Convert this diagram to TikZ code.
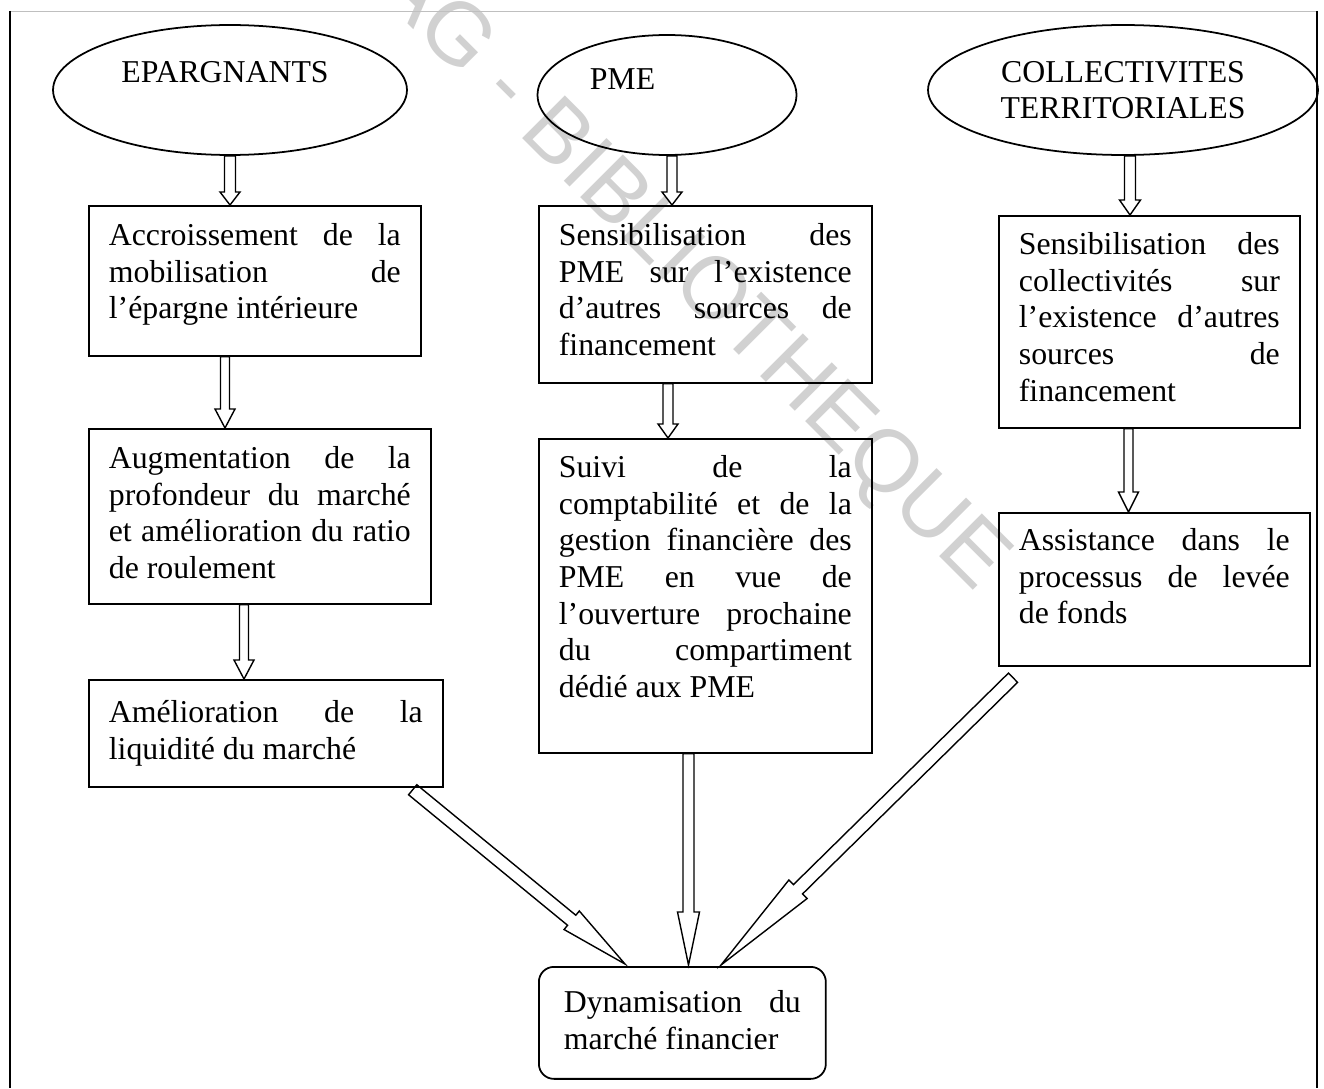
\documentclass[tikz,border=0pt]{standalone}
\usepackage{fontspec}
\setmainfont{Liberation Serif}
\newfontfamily\filigrane{Liberation Sans}
\usetikzlibrary{calc, shapes.geometric}
\definecolor{gristrait}{gray}{0.75}
\definecolor{grisfili}{gray}{0.82}
\newcommand{\corps}{\fontsize{18.1}{20.8}\selectfont}
\newcommand{\fleche}[5]{%
  \coordinate (fA) at #4;
  \coordinate (fB) at #5;
  \coordinate (fC) at ($(fB)!#3!(fA)$);
  \draw[creux] ($(fA)!#1!90:(fB)$) -- ($(fC)!#1!-90:(fA)$)
    -- ($(fC)!#2!-90:(fA)$) -- (fB) -- ($(fC)!#2!90:(fA)$)
    -- ($(fC)!#1!90:(fA)$) -- ($(fA)!#1!-90:(fB)$) -- cycle;}
\tolerance=10000
\hyphenpenalty=10000

\begin{document}
\begin{tikzpicture}[x=0.02cm, y=-0.02cm,
      acteur/.style={ellipse, draw, line width=1pt, inner sep=0pt, font=\corps},
      titre/.style={anchor=base, inner sep=0pt, font=\corps},
      etape/.style={draw, line width=1pt, anchor=north west, inner xsep=0.4cm,
                    inner ysep=0pt, align=justify, font=\corps},
      creux/.style={draw, line width=0.8pt, line join=miter}]
    \useasboundingbox (0,0) rectangle (1324,1088);
    \node[text=grisfili, font=\filigrane\fontsize{50}{50}\selectfont, rotate=-45]
      (fili) at (690,275) {AG - BIBLIOTHEQUE};
    \draw[gristrait, line width=0.5pt] (10,11) -- (1317,11);
    \draw[line width=1.2pt] (10,11) -- (10,1088) (1317,11) -- (1317,1088);

    \node[acteur, minimum width=7.08cm, minimum height=2.6cm] (e1) at (230,90) {};
    \node[titre] (t1) at ($(e1)+(-5,-7)$) {EPARGNANTS};
    \node[acteur, minimum width=5.18cm, minimum height=2.4cm] (e2) at (667,95) {};
    \node[titre] (t2) at ($(e2)+(-44.5,-5)$) {PME};
    \node[acteur, minimum width=7.8cm, minimum height=2.6cm, align=center]
      (e3) at (1123,90) {COLLECTIVITES\\TERRITORIALES};

    \node[etape, text width=5.84cm, text height=0.8cm, text depth=2.2cm] (b1) at (88,205)
      {Accroissement de la\linebreak mobilisation de\linebreak l’épargne intérieure};
    \node[etape, text width=6.04cm, text height=0.8cm, text depth=2.7cm] (b2) at (88,428)
      {Augmentation de la\linebreak profondeur du marché\linebreak et amélioration du ratio\linebreak de roulement};
    \node[etape, text width=6.28cm, text height=0.86cm, text depth=1.28cm] (b3) at (88,679)
      {Amélioration de la\linebreak liquidité du marché};
    \node[etape, text width=5.86cm, text height=0.8cm, text depth=2.74cm] (b4) at (538,205)
      {Sensibilisation des\linebreak PME sur l’existence\linebreak d’autres sources de\linebreak financement};
    \node[etape, text width=5.86cm, text height=0.78cm, text depth=5.5cm] (b5) at (538,438)
      {Suivi de la\linebreak comptabilité et de la\linebreak gestion financière des\linebreak PME en vue de\linebreak l’ouverture prochaine\linebreak du compartiment\linebreak dédié aux PME};
    \node[etape, text width=5.22cm, text height=0.78cm, text depth=3.46cm] (b6) at (998,215)
      {Sensibilisation des\linebreak collectivités sur\linebreak l’existence d’autres\linebreak sources de\linebreak financement};
    \node[etape, text width=5.42cm, text height=0.76cm, text depth=2.3cm] (b7) at (998,512)
      {Assistance dans le\linebreak processus de levée\linebreak de fonds};
    \node[etape, rounded corners=0.3cm, inner xsep=0.5cm, text width=4.74cm,
          text height=0.92cm, text depth=1.32cm] (dyn) at (538,966)
      {Dynamisation du\linebreak marché financier};

    \fleche{0.11cm}{0.2cm}{0.26cm}{(e1.south)}{(e1.south |- b1.north)}
    \fleche{0.09cm}{0.2cm}{0.38cm}{($(b1.south west)+(137,0)$)}{($(b2.north west)+(137,0)$)}
    \fleche{0.09cm}{0.2cm}{0.38cm}{($(b2.south west)+(156,0)$)}{($(b3.north west)+(156,0)$)}
    \fleche{0.1cm}{0.2cm}{0.26cm}{($(e2.south)+(5,0)$)}{($(b4.north west)+(134,0)$)}
    \fleche{0.1cm}{0.2cm}{0.28cm}{($(b4.south west)+(130,0)$)}{($(b5.north west)+(130,0)$)}
    \fleche{0.11cm}{0.21cm}{0.3cm}{($(e3.south)+(7,0)$)}{($(b6.north west)+(132,0)$)}
    \fleche{0.09cm}{0.2cm}{0.4cm}{($(b6.south west)+(130.5,0)$)}{($(b7.north west)+(130.5,0)$)}
    \fleche{0.11cm}{0.22cm}{1.06cm}{($(b5.south west)+(150.5,0)$)}{($(dyn.north west)+(150.5,-1)$)}
    \fleche{0.13cm}{0.24cm}{1.38cm}{($(b3.south east)+(-31,2)$)}{($(dyn.north west)+(87,-2)$)}
    \fleche{0.13cm}{0.26cm}{2.16cm}{($(b7.south west)+(15,11)$)}{($(dyn.north west)+(183,-1)$)}
  \end{tikzpicture}
\end{document}
